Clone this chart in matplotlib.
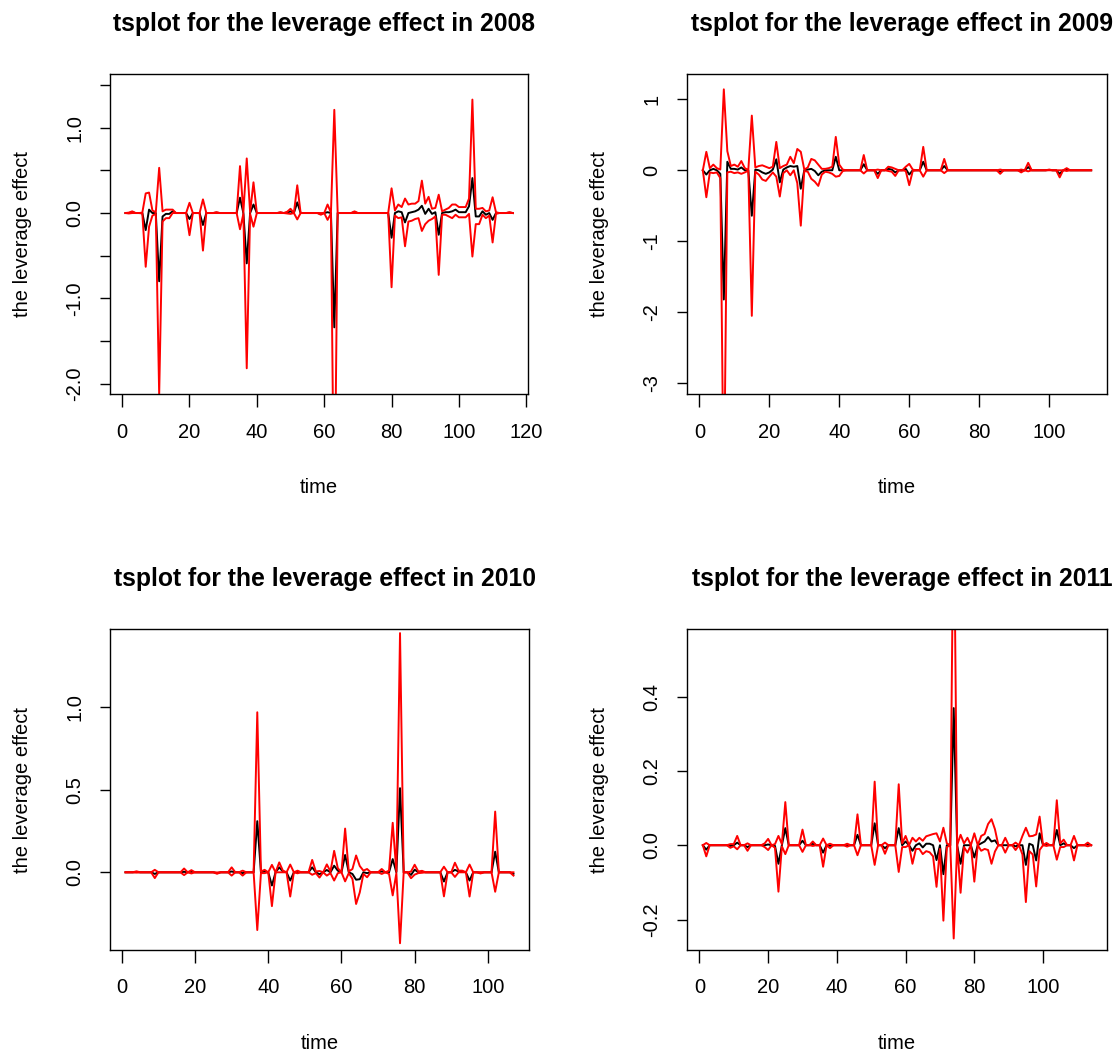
import numpy as np
import matplotlib
matplotlib.use("Agg")
import matplotlib.pyplot as plt

plt.rcParams['font.family'] = ['Liberation Sans', 'DejaVu Sans']
plt.rcParams['axes.unicode_minus'] = False

years = ["2008", "2009", "2010", "2011"]

# estimated leverage effect (black) and half width of the band (red)
mean_2008 = [
    0, 0, 0.01, 0, 0, 0, -0.2, 0.04, 0, 0,
    -0.8, -0.04, -0.01, -0.01, 0.02, 0, 0, 0, 0, -0.07,
    0, 0, 0, -0.14, 0, 0, 0, 0.005, 0, 0,
    0, 0, 0, 0, 0.18, 0, -0.59, 0, 0.1, 0,
    0, 0, 0, 0, 0, 0, 0.005, 0, 0.005, 0.02,
    0, 0.125, 0, 0, 0, 0, 0, 0, -0.01, 0,
    0.01, 0, -1.34, 0, 0, 0, 0, 0, 0.01, 0,
    0, 0, 0, 0, 0, 0, 0, 0, 0, -0.29,
    0, 0.02, 0.01, -0.11, 0, 0.01, 0.02, 0.04, 0.085, -0.01,
    0.05, -0.01, 0.01, -0.255, 0, 0.01, 0.01, 0.02, 0.04, 0.01,
    0.01, 0.01, 0.08, 0.41, -0.04, -0.04, 0.02, -0.02, 0, -0.08,
    0, 0, 0, 0, 0.005, 0,
]
width_2008 = [
    0, 0.005, 0.01, 0, 0, 0.005, 0.43, 0.2, 0.03, 0.01,
    1.33, 0.06, 0.05, 0.05, 0.02, 0, 0, 0, 0, 0.19,
    0, 0, 0, 0.3, 0, 0, 0, 0.005, 0, 0,
    0, 0, 0, 0, 0.37, 0.01, 1.23, 0.01, 0.26, 0,
    0, 0, 0, 0, 0, 0, 0.005, 0, 0.01, 0.03,
    0, 0.2, 0, 0, 0, 0, 0, 0, 0.01, 0,
    0.09, 0.005, 2.55, 0, 0, 0, 0, 0, 0.01, 0,
    0, 0, 0, 0, 0, 0, 0, 0, 0, 0.58,
    0.03, 0.08, 0.06, 0.28, 0.1, 0.1, 0.09, 0.1, 0.295, 0.12,
    0.14, 0.06, 0.05, 0.47, 0.02, 0.03, 0.05, 0.08, 0.06, 0.06,
    0.06, 0.06, 0.09, 0.92, 0.09, 0.09, 0.04, 0.04, 0.03, 0.265,
    0.01, 0, 0, 0, 0.005, 0,
]

mean_2009 = [
    0, -0.06, 0, 0.02, 0, -0.05, -1.82, 0.12, 0.02, 0.02,
    0.01, 0.04, 0, 0, -0.64, 0.01, 0, -0.03, -0.05, -0.03,
    0.01, 0.155, -0.17, 0.01, 0.04, 0.06, 0.05, 0.06, -0.26, 0,
    0.01, 0.02, -0.01, -0.07, -0.02, 0, 0, 0, 0.19, 0,
    0, 0, 0, 0, 0, 0, 0.085, 0, 0, 0,
    -0.05, 0, 0, 0.02, 0.01, -0.03, 0, 0, 0.02, -0.06,
    0, 0, 0, 0.12, 0, 0, 0, 0, 0, 0.06,
    0, 0, 0, 0, 0, 0, 0, 0, 0, 0,
    0, 0, 0, 0, 0, -0.02, 0, 0, 0, 0,
    0, -0.01, 0, 0.045, 0, 0, 0, 0, 0, 0.005,
    0, 0, -0.05, 0, 0.01, 0, 0, 0, 0, 0,
    0, 0,
]
width_2009 = [
    0, 0.32, 0.03, 0.06, 0.03, 0.06, 2.96, 0.15, 0.04, 0.06,
    0.04, 0.09, 0.03, 0.005, 1.41, 0.03, 0.06, 0.1, 0.1, 0.06,
    0.04, 0.245, 0.2, 0.05, 0.04, 0.13, 0.05, 0.24, 0.52, 0.01,
    0.03, 0.14, 0.15, 0.15, 0.04, 0.02, 0.03, 0.05, 0.28, 0.08,
    0.01, 0, 0, 0, 0, 0, 0.13, 0, 0, 0,
    0.06, 0, 0, 0.03, 0.03, 0.05, 0, 0, 0.03, 0.15,
    0.01, 0, 0, 0.21, 0, 0, 0, 0, 0, 0.1,
    0, 0, 0, 0, 0, 0, 0, 0, 0, 0,
    0, 0, 0, 0, 0, 0.03, 0, 0, 0, 0,
    0, 0.02, 0, 0.06, 0, 0, 0, 0, 0, 0.005,
    0, 0, 0.05, 0, 0.02, 0, 0, 0, 0, 0,
    0, 0,
]

mean_2010 = [
    0, 0, 0, 0.002, 0, 0, 0, 0, -0.01, 0,
    0, 0, 0, 0, 0, 0, 0.003, 0, 0.003, 0,
    0, 0, 0, 0, 0, -0.005, 0, 0, 0, 0.005,
    0, 0, -0.005, 0, 0, 0, 0.31, 0, 0.005, 0,
    -0.08, 0, 0.03, 0.005, 0, -0.05, 0, 0.002, 0, 0,
    0, 0.03, 0, -0.012, 0, 0.014, 0, 0.04, 0.01, 0,
    0.105, 0, -0.01, -0.045, -0.042, 0, -0.005, 0, 0, 0,
    0.005, 0, 0, 0.08, 0, 0.51, 0, 0, -0.016, 0.016,
    0, 0.003, 0, 0, 0, 0, 0, -0.056, 0, 0,
    0.015, 0.005, 0.005, 0, -0.05, 0, 0, -0.003, 0, 0,
    0, 0.125, 0, 0, 0, 0, -0.01,
]
width_2010 = [
    0, 0, 0, 0.004, 0, 0, 0, 0, 0.025, 0,
    0, 0, 0, 0, 0, 0, 0.02, 0, 0.01, 0,
    0, 0, 0, 0, 0, 0.004, 0, 0, 0, 0.025,
    0, 0, 0.015, 0, 0, 0, 0.66, 0.005, 0.01, 0,
    0.125, 0, 0.03, 0.005, 0, 0.097, 0, 0.008, 0, 0,
    0, 0.045, 0.005, 0.02, 0, 0.034, 0.005, 0.09, 0.015, 0,
    0.16, 0.005, 0.03, 0.147, 0.08, 0.01, 0.025, 0, 0, 0,
    0.015, 0, 0.01, 0.22, 0.005, 0.94, 0, 0, 0.02, 0.03,
    0.005, 0.006, 0, 0, 0, 0, 0, 0.09, 0, 0,
    0.043, 0.005, 0.005, 0, 0.097, 0, 0, 0.004, 0, 0,
    0, 0.243, 0, 0, 0, 0, 0.01,
]

mean_2011 = [
    0, -0.012, 0, 0, 0, 0, 0, 0, -0.002, 0,
    0.007, 0, 0, -0.005, 0, 0, 0, 0, 0, 0.002,
    0, -0.002, -0.05, 0, 0.046, 0, 0, 0, 0, 0.012,
    0, 0, 0.004, 0, 0, -0.02, 0, -0.002, 0, 0,
    0, 0, 0, 0, 0, 0.028, 0, 0, 0, 0,
    0.059, 0, 0, -0.008, 0, 0, 0, 0.046, 0, 0.01,
    0, -0.015, 0, 0.005, -0.006, 0.004, 0.004, 0, -0.04, 0,
    -0.078, 0, 0, 0.369, 0, -0.05, 0, 0, 0, -0.033,
    0, 0.005, 0.01, 0.022, 0.01, 0.013, 0, 0, 0, 0,
    0, -0.003, 0, 0, -0.053, 0.004, 0, -0.041, 0.032, 0,
    0.002, 0, 0, 0.041, 0, 0.005, 0, 0, -0.008, 0,
    0, 0, 0.002, 0,
]
width_2011 = [
    0, 0.018, 0, 0, 0, 0, 0, 0, 0.005, 0.003,
    0.018, 0, 0, 0.01, 0, 0, 0, 0, 0.005, 0.015,
    0, 0.005, 0.075, 0.003, 0.07, 0, 0, 0, 0, 0.03,
    0, 0, 0.006, 0, 0, 0.038, 0, 0.006, 0, 0,
    0, 0, 0.004, 0, 0, 0.055, 0, 0, 0, 0,
    0.112, 0, 0, 0.015, 0, 0, 0, 0.118, 0.005, 0.015,
    0, 0.035, 0.01, 0.015, 0.018, 0.02, 0.023, 0.03, 0.072, 0.01,
    0.125, 0.005, 0, 0.62, 0, 0.078, 0.005, 0.02, 0, 0.065,
    0, 0.02, 0.02, 0.035, 0.06, 0.03, 0, 0, 0.02, 0,
    0, 0.01, 0, 0.025, 0.1, 0.02, 0.025, 0.07, 0.045, 0,
    0.004, 0, 0, 0.08, 0.005, 0.01, 0, 0, 0.033, 0,
    0, 0, 0.005, 0,
]

means = [mean_2008, mean_2009, mean_2010, mean_2011]
widths = [width_2008, width_2009, width_2010, width_2011]

# axis ranges and ticks
y_limits = [(-2.125, 1.63), (-3.155, 1.356), (-0.471, 1.473), (-0.282, 0.581)]
y_ticks = [
    [-2.0, -1.5, -1.0, -0.5, 0.0, 0.5, 1.0, 1.5],
    [-3, -2, -1, 0, 1],
    [0.0, 0.5, 1.0],
    [-0.2, 0.0, 0.2, 0.4],
]
y_ticklabels = [
    ["-2.0", "", "-1.0", "", "0.0", "", "1.0", ""],
    ["-3", "-2", "-1", "0", "1"],
    ["0.0", "0.5", "1.0"],
    ["-0.2", "0.0", "0.2", "0.4"],
]
x_ticks = [
    [0, 20, 40, 60, 80, 100, 120],
    [0, 20, 40, 60, 80, 100],
    [0, 20, 40, 60, 80, 100],
    [0, 20, 40, 60, 80, 100],
]

W, H = 1119, 1053
fig = plt.figure(figsize=(W / 100, H / 100), dpi=100)

# plot boxes in pixels: left, top, right, bottom
boxes = [(110, 74, 528.3, 394.3), (687.3, 74, 1106.7, 394.3),
         (110, 629.3, 529, 950), (687.3, 629.3, 1106.7, 950)]

for i in range(4):
    l, t, r, b = boxes[i]
    ax = fig.add_axes([l / W, 1 - b / H, (r - l) / W, (b - t) / H])

    m = np.array(means[i])
    w = np.array(widths[i])
    time = np.arange(1, len(m) + 1)
    n = len(m)

    ax.plot(time, m, color='black', lw=1.4)
    ax.plot(time, m + w, color='red', lw=1.4)
    ax.plot(time, m - w, color='red', lw=1.4)

    ax.set_xlim(1 - 0.04 * (n - 1), n + 0.04 * (n - 1))
    ax.set_ylim(*y_limits[i])
    ax.set_xticks(x_ticks[i])
    ax.set_yticks(y_ticks[i])
    ax.set_yticklabels(y_ticklabels[i], rotation=90, va='center')

    for s in ax.spines.values():
        s.set_linewidth(1.0)
    ax.tick_params(axis='x', length=9.5, width=1.0, pad=11, labelsize=14.5)
    ax.tick_params(axis='y', length=7.5, width=1.0, pad=11, labelsize=14.5)

    ax.set_xlabel("time", fontsize=14.5)
    ax.xaxis.set_label_coords(0.5, -0.29)
    ax.xaxis.label.set_va('center')
    ax.set_ylabel("the leverage effect", fontsize=14.5)
    ax.yaxis.set_label_coords(-0.21, 0.5)
    ax.yaxis.label.set_va('center')

    ax.set_title("tsplot for the leverage effect in " + years[i],
                 fontsize=17.8, fontweight='bold', x=0.512, y=1.156,
                 va='center', pad=0)

fig.savefig("out.png", dpi=100)
